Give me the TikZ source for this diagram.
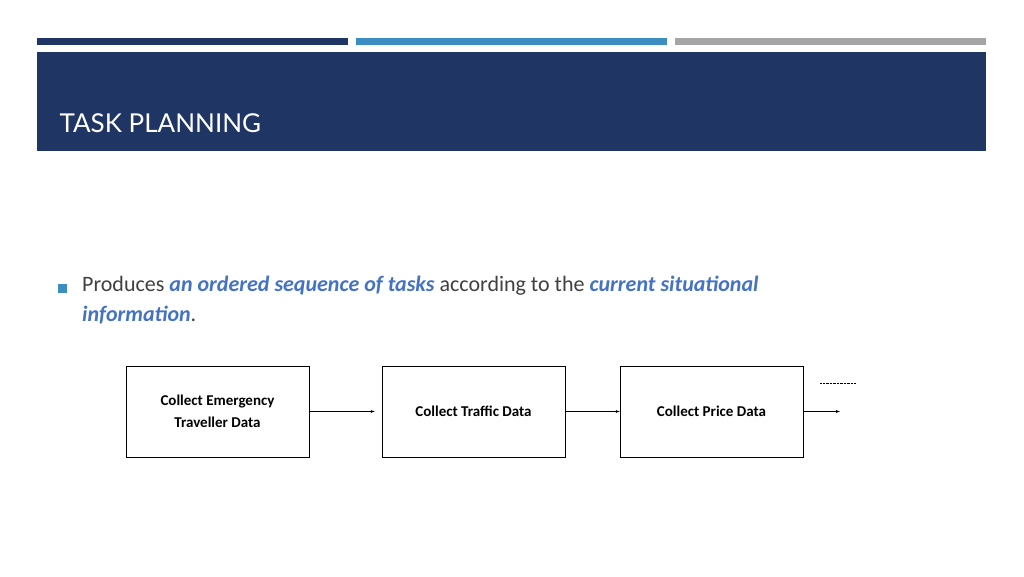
\documentclass[tikz,border=0pt]{standalone}
\usepackage{fontspec}
\setmainfont{Carlito}
\newfontfamily\titlefont{Lato}
\usetikzlibrary{positioning}
\definecolor{vnavy}{HTML}{1f3564}
\definecolor{vblue}{HTML}{3c8dc2}
\definecolor{vgray}{HTML}{a5a5a5}
\definecolor{vtext}{HTML}{404040}
\definecolor{vhi}{HTML}{4472c4}
\tikzset{
	taskbox/.style={draw, thin, minimum width=183pt, minimum height=91pt, align=center, font=\fontsize{15}{22}\selectfont\bfseries},
	flow/.style={-latex, thin}
}
\newcommand{\hl}[1]{\textcolor{vhi}{\textbf{\textit{#1}}}}
\begin{document}
\begin{tikzpicture}[x=1pt,y=-1pt]
	\useasboundingbox (0,0) rectangle (1024,576);
	\fill[vnavy] (37,38) rectangle (348,45);
	\fill[vblue] (356,38) rectangle (667,45);
	\fill[vgray] (675,38) rectangle (986,45);
	\fill[vnavy] (37,52) rectangle (986,151);
	\node[anchor=west, text=white, font=\titlefont\fontsize{26}{30}\selectfont] (title) at (56,123) {TASK PLANNING};
	\fill[vblue] (58,284) rectangle (67,293);
	\node[anchor=north west, text=vtext, align=left, font=\fontsize{22}{30}\selectfont, inner sep=0pt] (body) at (82,276)
		{Produces \hl{an ordered sequence of tasks} according to the \hl{current situational}\\\hl{information}.};
	\node[taskbox] (collect) at (217.5,411.5) {Collect Emergency\\Traveller Data};
	\node[taskbox] (traffic) at (473.5,411.5) {Collect Traffic Data};
	\node[taskbox] (price) at (711.5,411.5) {Collect Price Data};
	\coordinate (next) at (840,411.5);
	\draw[flow] (collect) -- ([xshift=-7pt]traffic.west);
	\draw[flow] (traffic) -- (price);
	\draw[flow] (price) -- (next);
	\draw[densely dotted, thin] (820,383) -- (856,383);
\end{tikzpicture}
\end{document}
